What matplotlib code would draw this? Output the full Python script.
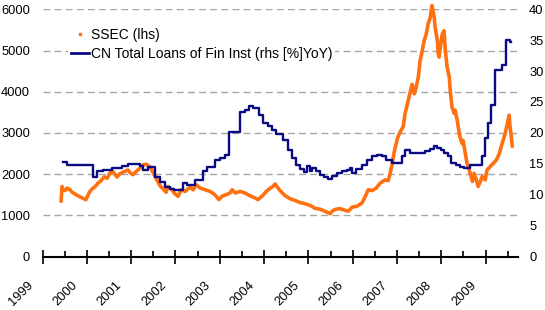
import matplotlib
matplotlib.use('Agg')
import matplotlib.pyplot as plt
import matplotlib.transforms as mtrans
from matplotlib.lines import Line2D

plt.rcParams['font.family'] = ['Liberation Sans', 'DejaVu Sans']
plt.rcParams['font.size'] = 9

# ---------------- data ----------------
years = list(range(1999, 2010))
year_labels = [str(y) for y in years]
minor_years = [y + 0.5 for y in years]

left_ticks = [0, 1000, 2000, 3000, 4000, 5000, 6000]
right_ticks = [0, 5, 10, 15, 20, 25, 30, 35, 40]

ssec_label = "SSEC (lhs)"
loan_label = "CN Total Loans of Fin Inst (rhs [%]YoY)"

# SSEC index (lhs), decimal year / level
ssec_t = [1999.42, 1999.44, 1999.46, 1999.51, 1999.55, 1999.62, 1999.67, 1999.76, 1999.85, 1999.94,
          1999.98, 2000.03, 2000.07, 2000.12, 2000.19, 2000.25, 2000.30, 2000.39, 2000.46, 2000.52,
          2000.59, 2000.68, 2000.75, 2000.84, 2000.93, 2000.98, 2001.04, 2001.11, 2001.20, 2001.27,
          2001.34, 2001.43, 2001.49, 2001.56, 2001.65, 2001.72, 2001.79, 2001.83, 2001.92, 2001.99,
          2002.06, 2002.13, 2002.22, 2002.28, 2002.33, 2002.40, 2002.47, 2002.56, 2002.67, 2002.78,
          2002.89, 2002.98, 2003.05, 2003.14, 2003.23, 2003.28, 2003.35, 2003.46, 2003.57, 2003.68,
          2003.80, 2003.86, 2003.95, 2004.05, 2004.14, 2004.20, 2004.25, 2004.29, 2004.36, 2004.47,
          2004.59, 2004.70, 2004.81, 2004.93, 2005.04, 2005.15, 2005.26, 2005.38, 2005.49, 2005.56,
          2005.63, 2005.72, 2005.83, 2005.90, 2005.99, 2006.10, 2006.21, 2006.28, 2006.35, 2006.44,
          2006.53, 2006.62, 2006.73, 2006.80, 2006.84, 2006.89, 2006.93, 2006.98, 2007.02, 2007.07,
          2007.14, 2007.18, 2007.25, 2007.30, 2007.34, 2007.39, 2007.43, 2007.48, 2007.52, 2007.57,
          2007.61, 2007.66, 2007.70, 2007.75, 2007.77, 2007.79, 2007.84, 2007.86, 2007.91, 2007.93,
          2007.95, 2008.00, 2008.02, 2008.06, 2008.09, 2008.13, 2008.18, 2008.20, 2008.24, 2008.29,
          2008.31, 2008.36, 2008.38, 2008.42, 2008.47, 2008.49, 2008.54, 2008.58, 2008.63, 2008.67,
          2008.70, 2008.74, 2008.79, 2008.83, 2008.88, 2008.92, 2008.99, 2009.03, 2009.10, 2009.17,
          2009.24, 2009.31, 2009.37, 2009.44, 2009.49, 2009.53, 2009.55, 2009.58, 2009.60]
ssec_v = [1340, 1700, 1620, 1600, 1660, 1620, 1560, 1500, 1445, 1400,
          1380, 1500, 1580, 1640, 1700, 1780, 1820, 1930, 1900, 2025,
          2060, 1930, 2010, 2060, 2100, 2030, 1985, 2060, 2145, 2225,
          2240, 2170, 2050, 1900, 1720, 1640, 1560, 1700, 1620, 1520,
          1460, 1620, 1580, 1640, 1680, 1620, 1740, 1660, 1620, 1580,
          1500, 1380, 1460, 1500, 1540, 1620, 1540, 1580, 1540, 1475,
          1420, 1380, 1460, 1580, 1660, 1700, 1760, 1700, 1600, 1480,
          1400, 1360, 1310, 1280, 1240, 1170, 1150, 1095, 1040, 1120,
          1150, 1160, 1120, 1100, 1200, 1220, 1300, 1450, 1620, 1600,
          1660, 1780, 1860, 1840, 2000, 2240, 2500, 2740, 2900, 3020,
          3150, 3460, 3780, 4020, 4180, 3950, 4100, 4350, 4750, 5000,
          5230, 5400, 5640, 5800, 5970, 6090, 5800, 5560, 5240, 4920,
          4840, 5240, 5400, 5480, 5000, 4600, 4350, 4030, 3630, 3470,
          3550, 3300, 3150, 2900, 2740, 2820, 2500, 2260, 2100, 1940,
          1820, 2020, 1860, 1700, 1820, 1940, 1860, 2100, 2180, 2260,
          2340, 2500, 2740, 2980, 3230, 3430, 3150, 2900, 2670]

# CN total loans YoY % (rhs), change points of the step series
loan_t = [1999.46, 1999.55, 2000.15, 2000.23, 2000.37, 2000.57, 2000.79, 2000.93, 2001.20, 2001.27,
          2001.38, 2001.54, 2001.65, 2001.77, 2001.88, 2001.97, 2002.17, 2002.26, 2002.44, 2002.62,
          2002.71, 2002.89, 2003.01, 2003.12, 2003.21, 2003.46, 2003.57, 2003.66, 2003.75, 2003.82,
          2003.89, 2003.98, 2004.09, 2004.18, 2004.27, 2004.43, 2004.54, 2004.63, 2004.72, 2004.81,
          2004.90, 2004.97, 2005.03, 2005.08, 2005.17, 2005.26, 2005.35, 2005.44, 2005.53, 2005.65,
          2005.76, 2005.87, 2005.94, 2005.99, 2006.08, 2006.21, 2006.33, 2006.44, 2006.55, 2006.66,
          2006.75, 2006.89, 2007.00, 2007.12, 2007.18, 2007.30, 2007.41, 2007.52, 2007.63, 2007.75,
          2007.84, 2007.91, 2008.00, 2008.06, 2008.15, 2008.22, 2008.33, 2008.42, 2008.51, 2008.65,
          2008.91, 2008.98, 2009.06, 2009.12, 2009.21, 2009.37, 2009.46, 2009.55, 2009.57]
loan_v = [15.3, 14.8, 12.85, 13.8, 14.0, 14.3, 14.6, 14.9, 14.6, 14.0,
          14.5, 12.8, 12.1, 11.3, 11.0, 10.8, 11.9, 11.6, 12.4, 13.8,
          14.5, 15.6, 16.0, 16.5, 20.2, 23.4, 23.7, 24.4, 24.1, 24.0,
          22.9, 21.6, 21.1, 20.5, 19.9, 18.9, 17.3, 15.9, 14.8, 14.1,
          13.6, 14.7, 13.8, 14.3, 13.8, 13.2, 12.9, 12.5, 13.1, 13.5,
          13.8, 14.0, 14.3, 13.5, 14.1, 14.8, 15.6, 16.2, 16.5, 16.2,
          15.6, 15.1, 15.2, 16.2, 17.3, 16.7, 16.8, 16.7, 17.0, 17.4,
          17.9, 17.5, 17.3, 16.7, 16.2, 15.1, 14.8, 14.5, 14.3, 14.8,
          16.2, 19.1, 21.6, 24.5, 30.2, 31.0, 35.0, 34.7, 34.7]

ORANGE = '#FF7010'
BLUE = '#0A0A82'
GRID = '#A6A6A6'

# ---------------- figure ----------------
W, H = 545, 310
fig = plt.figure(figsize=(W / 100, H / 100), dpi=100)
ax = fig.add_axes([42.5 / W, 1 - 256.5 / H, (518 - 42.5) / W, (256.5 - 9.3) / H])
ax2 = ax.twinx()

ax.set_xlim(1999, 2009.73)
ax.set_ylim(0, 6000)
ax2.set_ylim(0, 40)

# gridlines (lhs)
ax.set_yticks(left_ticks)
ax.set_yticklabels([str(v) for v in left_ticks])
ax.yaxis.grid(True, linestyle=(0, (5, 3)), color=GRID, linewidth=1.0)
ax.set_axisbelow(True)
ax.tick_params(axis='y', length=0, pad=9, labelsize=9.3, colors='black')

ax2.set_yticks(right_ticks)
ax2.set_yticklabels([str(v) for v in right_ticks])
ax2.tick_params(axis='y', length=0, pad=8, labelsize=9.3, colors='black')

for a in (ax, ax2):
    for s in ('left', 'right', 'top'):
        a.spines[s].set_visible(False)
ax2.spines['bottom'].set_visible(False)
ax.spines['bottom'].set_color('black')
ax.spines['bottom'].set_linewidth(1.5)
ax.spines['bottom'].set_zorder(5)

ax.set_xticks(years)
ax.set_xticks(minor_years, minor=True)
ax.tick_params(axis='x', which='major', direction='inout', length=10, width=1.2,
               labelbottom=False, color='black')
ax.tick_params(axis='x', which='minor', direction='in', length=4, width=1.2,
               labelbottom=False, color='black')

# rotated year labels, shifted left of the ticks
off = mtrans.ScaledTranslation(-7 / 100, -22.5 / 100, fig.dpi_scale_trans)
trans = mtrans.blended_transform_factory(ax.transData, ax.transAxes) + off
for y, lab in zip(years, year_labels):
    ax.text(y, 0, lab, transform=trans, rotation=45, ha='right', va='top',
            fontsize=9.3, color='black')

# series
ax.plot(ssec_t, ssec_v, color=ORANGE, linewidth=2.6, solid_joinstyle='round',
        solid_capstyle='round', clip_on=False, zorder=3)
ax2.step(loan_t, loan_v, where='post', color=BLUE, linewidth=1.7, zorder=3)

# legend
handles = [Line2D([], [], marker='s', markersize=1.8, linestyle='none', color=ORANGE),
           Line2D([], [], color=BLUE, linewidth=2.0)]
leg = ax2.legend(handles, [ssec_label, loan_label], loc='upper left',
                 bbox_to_anchor=(68 / W, 1 - 25.5 / H), bbox_transform=fig.transFigure,
                 frameon=True, facecolor='white', edgecolor='none', framealpha=1,
                 fancybox=False, borderpad=0.2, borderaxespad=0, handlelength=1.3,
                 handletextpad=0.15, labelspacing=0.35, fontsize=10)
leg.set_zorder(10)

fig.savefig('out.png', dpi=100)
